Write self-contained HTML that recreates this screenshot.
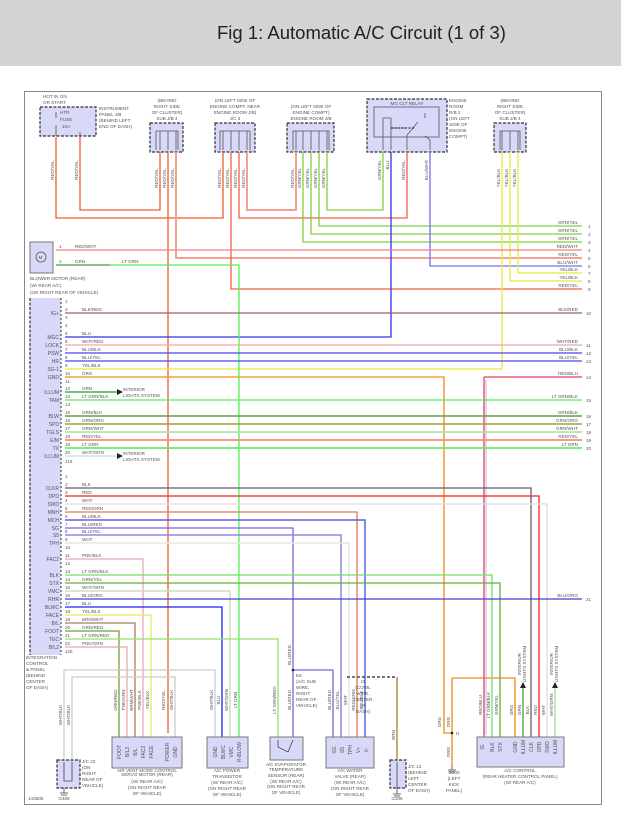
<!DOCTYPE html>
<html><head><meta charset="utf-8"><style>
html,body{margin:0;padding:0;background:#fff}
svg{display:block}
text{font-family:"Liberation Sans",sans-serif;fill:#555}
.s{font-size:4.6px}
.p{font-size:5px;fill:#444}
.w{fill:none;stroke-width:1.3}
.box{fill:#d8d8f8;stroke:#333;stroke-width:1.2;stroke-dasharray:3 1.5}
.sb{fill:#d8d8f8;stroke:#777;stroke-width:1}
</style></head><body>
<svg width="621" height="816" viewBox="0 0 621 816" xmlns="http://www.w3.org/2000/svg">
<rect x="0" y="0" width="621" height="66" fill="#d3d3d3"/>
<text x="217" y="39" style="font-size:18.5px;fill:#222">Fig 1: Automatic A/C Circuit (1 of 3)</text>
<rect x="24.5" y="91.5" width="577" height="713" fill="none" stroke="#888" stroke-width="1"/>

<!-- top boxes -->
<rect class="box" x="40" y="107" width="56" height="29"/>
<rect class="box" x="150" y="123" width="33" height="29"/>
<rect class="box" x="215" y="123" width="40" height="29"/>
<rect class="box" x="287" y="123" width="47" height="29"/>
<rect class="box" x="367" y="99" width="80" height="53"/>
<rect x="374" y="107" width="65" height="30" fill="none" stroke="#555" stroke-width="0.8"/>
<rect class="box" x="494" y="123" width="32" height="29"/>
<g stroke="#555" stroke-width="0.8" fill="none">
<path d="M156 150V131H178V150M160 131V150M168 131V150M176 131V150"/>
<path d="M220 150V131H250V150M223 131V150M231 131V150M239 131V150M247 131V150"/>
<path d="M293 150V131H329V150M296 131V150M303 131V150M311 131V150M319 131V150M327 131V150"/>
<path d="M500 150V131H520V150M502 131V150M510 131V150M518 131V150"/>
<path d="M56 136V125M56 118V112M80 136V132H80"/>
<path d="M383 150V118M391 150V118M383 118H391M391 128H405M407 150V135L418 122M430 150V140L425 136M425 118V113"/>
</g>
<g stroke="#333" stroke-width="1.2" stroke-dasharray="2 1.5"><path d="M391 128H415"/></g>

<!-- top labels -->
<g class="s">
<text x="43" y="98">HOT IN ON</text><text x="43" y="104">OR START</text>
<text x="60" y="114">HTR</text><text x="60" y="121">FUSE</text><text x="62" y="128">10A</text>
<text x="99" y="110">INSTRUMENT</text><text x="99" y="116">PANEL J/B</text><text x="99" y="122">(BEHIND LEFT</text><text x="99" y="128">END OF DASH)</text>
<g text-anchor="middle">
<text x="167" y="102">(BEHIND</text><text x="167" y="108">RIGHT SIDE</text><text x="167" y="114">OF CLUSTER)</text><text x="167" y="120">SUB J/B 4</text>
<text x="235" y="102">(ON LEFT SIDE OF</text><text x="235" y="108">ENGINE COMPT, NEAR</text><text x="235" y="114">ENGINE ROOM J/B)</text><text x="235" y="120">J/C 3</text>
<text x="311" y="108">(ON LEFT SIDE OF</text><text x="311" y="114">ENGINE COMPT)</text><text x="311" y="120">ENGINE ROOM J/B</text>
<text x="407" y="105">MG CLT RELAY</text>
<text x="510" y="102">(BEHIND</text><text x="510" y="108">RIGHT SIDE</text><text x="510" y="114">OF CLUSTER)</text><text x="510" y="120">SUB J/B 4</text>
</g>
<text x="449" y="102">ENGINE</text><text x="449" y="108">ROOM</text><text x="449" y="114">R/B 2</text><text x="449" y="120">(ON LEFT</text><text x="449" y="126">SIDE OF</text><text x="449" y="132">ENGINE</text><text x="449" y="138">COMPT)</text>
</g>
<!-- vertical wire labels top -->
<g class="s" text-anchor="middle">
<text transform="translate(54,170) rotate(-90)">RED/YEL</text>
<text transform="translate(78,170) rotate(-90)">RED/YEL</text>
<text transform="translate(158,178) rotate(-90)">RED/YEL</text>
<text transform="translate(166,178) rotate(-90)">RED/YEL</text>
<text transform="translate(174,178) rotate(-90)">RED/YEL</text>
<text transform="translate(221,178) rotate(-90)">RED/YEL</text>
<text transform="translate(229,178) rotate(-90)">RED/YEL</text>
<text transform="translate(237,178) rotate(-90)">RED/YEL</text>
<text transform="translate(245,178) rotate(-90)">RED/YEL</text>
<text transform="translate(294,178) rotate(-90)">RED/YEL</text>
<text transform="translate(301,178) rotate(-90)">GRN/YEL</text>
<text transform="translate(309,178) rotate(-90)">GRN/YEL</text>
<text transform="translate(317,178) rotate(-90)">GRN/YEL</text>
<text transform="translate(325,178) rotate(-90)">GRN/YEL</text>
<text transform="translate(381,170) rotate(-90)">GRN/YEL</text>
<text transform="translate(389,165) rotate(-90)">BLU</text>
<text transform="translate(405,170) rotate(-90)">RED/YEL</text>
<text transform="translate(428,170) rotate(-90)">BLU/WHT</text>
<text transform="translate(500,178) rotate(-90)">YEL/BLK</text>
<text transform="translate(508,178) rotate(-90)">YEL/BLK</text>
<text transform="translate(516,178) rotate(-90)">YEL/BLK</text>
</g>

<!-- top wires -->
<g class="w">
<path stroke="#f05a30" d="M56 137V218H223V152"/>
<path stroke="#f05a30" d="M80 137V210H160V152"/>
<path stroke="#f05a30" d="M168 152V733"/>
<path stroke="#f4a090" stroke-width="2" d="M176 152V258H582"/>
<path stroke="#f06040" d="M231 152V289H582"/>
<path stroke="#f06040" d="M239 152V218H407V152"/>
<path stroke="#f4a090" stroke-width="2" d="M247 152V210H296V152"/>
<path stroke="#80d040" d="M303 152V242H582"/>
<path stroke="#80d040" d="M311 152V234H582"/>
<path stroke="#80d040" d="M319 152V226H582"/>
<path stroke="#80d040" d="M327 152V210H383V152"/>
<path stroke="#3030f0" d="M391 152V337H65"/>
<path stroke="#7070f0" d="M430 152V266H582"/>
<path stroke="#e8e840" d="M502 152V369H65"/>
<path stroke="#e8e840" d="M510 152V281H582"/>
<path stroke="#e8e840" d="M518 152V273H582"/>
<path stroke="#f08080" d="M56 250H582"/>
<path stroke="#40a040" d="M56 265H110"/>
<path stroke="#50f050" d="M110 265H239V737"/>
</g>
<rect class="sb" x="30" y="242" width="23" height="31"/>
<circle cx="41" cy="257" r="5" fill="none" stroke="#555" stroke-width="0.8"/>
<text x="38.5" y="259" class="s">M</text>
<g class="s">
<text x="59" y="248">1</text><text x="59" y="263">2</text>
<text x="75" y="248">RED/WHT</text><text x="75" y="263">GRN</text><text x="122" y="263">LT GRN</text>
<text x="30" y="280">BLOWER MOTOR (REAR)</text><text x="30" y="287">(W/ REAR A/C)</text><text x="30" y="294">(ON RIGHT REAR OF VEHICLE)</text>
</g>
<g class="s" text-anchor="end">
<text x="578" y="224">GRN/YEL</text><text x="578" y="232">GRN/YEL</text><text x="578" y="240">GRN/YEL</text>
<text x="578" y="248">RED/WHT</text><text x="578" y="256">RED/YEL</text><text x="578" y="264">BLU/WHT</text>
<text x="578" y="271">YEL/BLK</text><text x="578" y="279">YEL/BLK</text><text x="578" y="287">RED/YEL</text>
<text x="578" y="311">BLK/RED</text><text x="578" y="343">WHT/RED</text><text x="578" y="351">BLU/BLK</text><text x="578" y="359">BLU/YEL</text>
<text x="578" y="375">RED/BLU</text><text x="578" y="398">LT GRN/BLK</text><text x="578" y="414">GRN/BLK</text>
<text x="578" y="422">GRN/ORG</text><text x="578" y="430">GRN/WHT</text><text x="578" y="438">RED/YEL</text><text x="578" y="446">LT GRN</text>
<text x="578" y="597">BLU/ORG</text>
</g>
<g class="s">
<text x="588" y="228">1</text><text x="588" y="236">2</text><text x="588" y="244">3</text><text x="588" y="252">4</text><text x="588" y="260">5</text><text x="588" y="268">6</text><text x="588" y="275">7</text><text x="588" y="283">8</text><text x="588" y="291">9</text>
<text x="586" y="315">10</text><text x="586" y="347">11</text><text x="586" y="355">12</text><text x="586" y="363">13</text><text x="586" y="379">14</text><text x="586" y="402">15</text><text x="586" y="418">16</text><text x="586" y="426">17</text><text x="586" y="434">18</text><text x="586" y="442">19</text><text x="586" y="450">20</text><text x="586" y="601">21</text>
</g>

<!-- integration module -->
<rect x="30" y="298" width="31" height="357" fill="#d8d8f8"/>
<path d="M30 298V655" stroke="#333" stroke-width="1.2" stroke-dasharray="3 1.5"/>
<path d="M61 298V655" stroke="#333" stroke-width="1" stroke-dasharray="2 2"/>
<g class="p" text-anchor="end">
<text x="59" y="315">IG+</text><text x="59" y="339">MGC</text><text x="59" y="347">LOCK</text><text x="59" y="355">PSW</text><text x="59" y="363">HR</text><text x="59" y="371">SG-1</text><text x="59" y="379">GND</text>
<text x="59" y="394">ILLUM</text><text x="59" y="402">TAM</text><text x="59" y="418">BLW</text><text x="59" y="426">SPD</text><text x="59" y="434">TGLS</text><text x="59" y="442">E/M</text><text x="59" y="450">TX</text><text x="59" y="458">ILLUM</text>
<text x="59" y="490">CLKR</text><text x="59" y="498">DPD</text><text x="59" y="506">SWD</text><text x="59" y="514">MNH</text><text x="59" y="522">MCH</text><text x="59" y="530">SG</text><text x="59" y="537">S5</text><text x="59" y="545">TPH</text>
<text x="59" y="561">FAC2</text><text x="59" y="577">BLK</text><text x="59" y="585">STX</text><text x="59" y="593">VMC</text><text x="59" y="601">RHR</text><text x="59" y="609">BLWC</text><text x="59" y="617">FACE</text><text x="59" y="625">B/L</text><text x="59" y="633">FOOT</text><text x="59" y="641">TEC</text><text x="59" y="649">B/L2</text>
</g>
<g class="s">
<text x="65" y="303">1</text><text x="65" y="311">2</text><text x="65" y="319">3</text><text x="65" y="327">4</text><text x="65" y="335">5</text><text x="65" y="343">6</text><text x="65" y="351">7</text><text x="65" y="359">8</text><text x="65" y="367">9</text><text x="65" y="375">10</text><text x="65" y="383">11</text><text x="65" y="390">12</text><text x="65" y="398">13</text><text x="65" y="406">14</text><text x="65" y="414">15</text><text x="65" y="422">16</text><text x="65" y="430">17</text><text x="65" y="438">18</text><text x="65" y="446">19</text><text x="65" y="454">20</text><text x="65" y="463">J19</text>
<text x="65" y="478">1</text><text x="65" y="486">2</text><text x="65" y="494">3</text><text x="65" y="502">4</text><text x="65" y="510">5</text><text x="65" y="518">6</text><text x="65" y="526">7</text><text x="65" y="533">8</text><text x="65" y="541">9</text><text x="65" y="549">10</text><text x="65" y="557">11</text><text x="65" y="565">12</text><text x="65" y="573">13</text><text x="65" y="581">14</text><text x="65" y="589">15</text><text x="65" y="597">16</text><text x="65" y="605">17</text><text x="65" y="613">18</text><text x="65" y="621">19</text><text x="65" y="629">20</text><text x="65" y="637">21</text><text x="65" y="645">22</text><text x="65" y="653">J20</text>
<text x="82" y="311">BLK/RED</text><text x="82" y="335">BLU</text><text x="82" y="343">WHT/RED</text><text x="82" y="351">BLU/BLK</text><text x="82" y="359">BLU/YEL</text><text x="82" y="367">YEL/BLK</text><text x="82" y="375">ORG</text>
<text x="82" y="390">GRN</text><text x="82" y="398">LT GRN/BLK</text><text x="82" y="414">GRN/BLK</text><text x="82" y="422">GRN/ORG</text><text x="82" y="430">GRN/WHT</text><text x="82" y="438">RED/YEL</text><text x="82" y="446">LT GRN</text><text x="82" y="454">WHT/GRN</text>
<text x="82" y="486">BLK</text><text x="82" y="494">RED</text><text x="82" y="502">WHT</text><text x="82" y="510">RED/GRN</text><text x="82" y="518">BLU/BLK</text><text x="82" y="526">BLU/RED</text><text x="82" y="533">BLU/YEL</text><text x="82" y="541">WHT</text>
<text x="82" y="557">PNK/BLK</text><text x="82" y="573">LT GRN/BLK</text><text x="82" y="581">GRN/YEL</text><text x="82" y="589">WHT/GRN</text><text x="82" y="597">BLU/ORG</text><text x="82" y="605">BLU</text><text x="82" y="613">YEL/BLK</text><text x="82" y="621">BRN/WHT</text><text x="82" y="629">GRN/RED</text><text x="82" y="637">LT GRN/RED</text><text x="82" y="645">PNK/GRN</text>
<text x="123" y="391">INTERIOR</text><text x="123" y="397">LIGHTS SYSTEM</text>
<text x="123" y="455">INTERIOR</text><text x="123" y="461">LIGHTS SYSTEM</text>
<text x="26" y="659">INTEGRATION</text><text x="26" y="665">CONTROL</text><text x="26" y="671">&amp; PANEL</text><text x="26" y="677">(BEHIND</text><text x="26" y="683">CENTER</text><text x="26" y="689">OF DASH)</text>
</g>

<!-- module wires -->
<g class="w">
<path stroke="#a06060" d="M65 313H582"/>
<path stroke="#f0a8a8" d="M65 345H582"/>
<path stroke="#4848e8" d="M65 353H582"/>
<path stroke="#4848f0" d="M65 361H582"/>
<path stroke="#f0a040" stroke-width="1.6" d="M65 377H444V733H452M452 678V765M452 678H515V737"/>
<path stroke="#e04060" d="M484 377H582M484 377V737"/>
<path stroke="#c0a0e8" stroke-width="0.8" d="M486 380V735"/>
<path stroke="#20a020" d="M65 392H118"/>
<path stroke="#50f050" d="M65 400H582"/>
<path stroke="#60a040" stroke-width="1.6" d="M65 416H582"/>
<path stroke="#a0a040" stroke-width="1.6" d="M65 424H582"/>
<path stroke="#b8e0a8" stroke-width="1.8" d="M65 432H582"/>
<path stroke="#f09070" stroke-width="1.8" d="M65 440H582"/>
<path stroke="#60f060" stroke-width="1.8" d="M65 448H582"/>
<path stroke="#c8e0c0" d="M65 456H118"/>
<path stroke="#606060" d="M65 488H531V737"/>
<path stroke="#f02020" d="M65 496H539V737"/>
<path stroke="#dddddd" d="M65 504H547V737"/>
<path stroke="#e07060" d="M65 512H357V737"/>
<path stroke="#6060e0" stroke-width="1.5" d="M65 520H365V737"/>
<path stroke="#8060e0" d="M65 528H293V737M293 670H333V737"/>
<path stroke="#8888e0" stroke-width="1.5" d="M65 535H341V737"/>
<path stroke="#e6e6e6" stroke-width="1.5" d="M65 543H349V737"/>
<path stroke="#e8a8b8" d="M65 559H143V737"/>
<path stroke="#70e060" d="M65 575H492V737"/>
<path stroke="#60b030" d="M65 583H500V737"/>
<path stroke="#c8e0c0" stroke-width="1.5" d="M65 591H230V737"/>
<path stroke="#4040d0" d="M65 599H582"/>
<path stroke="#2020f0" d="M65 607H222V737"/>
<path stroke="#e8e860" d="M65 615H151V737"/>
<path stroke="#a08060" d="M65 623H135V737"/>
<path stroke="#70a040" d="M65 631H119V737"/>
<path stroke="#90e070" d="M65 639H278V737"/>
<path stroke="#e8a8a8" d="M65 647H127V737"/>
<path stroke="#cccccc" d="M64 760V670H215V737"/>
<path stroke="#cccccc" d="M72 760V677H175V737"/>
<path stroke="#a08030" d="M397 677V760"/>
<path stroke="#40a040" d="M523 686V737"/>
<path stroke="#a8d898" d="M555 686V737"/>
</g>
<path d="M347 677H397" stroke="#222" stroke-width="1.2" stroke-dasharray="3 2"/>
<circle cx="293" cy="670" r="1.3" fill="#222"/>
<circle cx="452" cy="733" r="1.3" fill="#222"/>
<path d="M117 389L123 392L117 395Z M117 453L123 456L117 459Z M520 688L523 682L526 688Z M552 688L555 682L558 688Z" fill="#222"/>

<!-- bottom boxes -->
<rect class="sb" x="112" y="737" width="70" height="31"/>
<rect class="sb" x="207" y="737" width="41" height="31"/>
<rect class="sb" x="270" y="737" width="33" height="23"/>
<rect class="sb" x="326" y="737" width="48" height="31"/>
<rect class="sb" x="477" y="737" width="87" height="30"/>
<rect class="box" x="57" y="760" width="23" height="28"/>
<rect class="box" x="390" y="760" width="16" height="28"/>
<path d="M64 762V781H72V762M397 762V788M64 788V793M60 793H68M61 795H67M397 788V794M393 794H401M394 796H400M452 765V770M448 770H456M449 772H455M278 740V747L288 752L293 740" stroke="#444" stroke-width="0.8" fill="none"/>
<g class="p" text-anchor="middle">
<text transform="translate(121,752) rotate(-90)">FOOT</text>
<text transform="translate(129,752) rotate(-90)">B/L2</text>
<text transform="translate(137,752) rotate(-90)">B/L</text>
<text transform="translate(145,752) rotate(-90)">FAC2</text>
<text transform="translate(153,752) rotate(-90)">FACE</text>
<text transform="translate(169,752) rotate(-90)">POWER</text>
<text transform="translate(177,752) rotate(-90)">GND</text>
<text transform="translate(217,752) rotate(-90)">GND</text>
<text transform="translate(225,752) rotate(-90)">BLWC</text>
<text transform="translate(233,752) rotate(-90)">VMC</text>
<text transform="translate(241,752) rotate(-90)">R-BLOW</text>
<text transform="translate(336,750) rotate(-90)">SG</text>
<text transform="translate(344,750) rotate(-90)">S5</text>
<text transform="translate(352,750) rotate(-90)">TPH</text>
<text transform="translate(360,750) rotate(-90)">V+</text>
<text transform="translate(368,750) rotate(-90)">V-</text>
<text transform="translate(484,747) rotate(-90)">IG</text>
<text transform="translate(494,747) rotate(-90)">BLK</text>
<text transform="translate(502,747) rotate(-90)">STX</text>
<text transform="translate(517,747) rotate(-90)">GND</text>
<text transform="translate(525,747) rotate(-90)">ILLUM</text>
<text transform="translate(533,747) rotate(-90)">CLK</text>
<text transform="translate(541,747) rotate(-90)">OPD</text>
<text transform="translate(549,747) rotate(-90)">SWD</text>
<text transform="translate(557,747) rotate(-90)">ILLUM</text>
</g>
<g class="s" text-anchor="middle">
<text transform="translate(117,700) rotate(-90)">GRN/RED</text>
<text transform="translate(125,700) rotate(-90)">PNK/GRN</text>
<text transform="translate(133,700) rotate(-90)">BRN/WHT</text>
<text transform="translate(141,700) rotate(-90)">PNK/BLK</text>
<text transform="translate(149,700) rotate(-90)">YEL/BLK</text>
<text transform="translate(165,700) rotate(-90)">RED/YEL</text>
<text transform="translate(173,700) rotate(-90)">WHT/BLK</text>
<text transform="translate(213,700) rotate(-90)">WHT/BLK</text>
<text transform="translate(220,700) rotate(-90)">BLU</text>
<text transform="translate(228,700) rotate(-90)">WHT/GRN</text>
<text transform="translate(237,700) rotate(-90)">LT GRN</text>
<text transform="translate(276,700) rotate(-90)">LT GRN/RED</text>
<text transform="translate(291,700) rotate(-90)">BLU/RED</text>
<text transform="translate(291,655) rotate(-90)">BLU/RED</text>
<text transform="translate(331,700) rotate(-90)">BLU/RED</text>
<text transform="translate(339,700) rotate(-90)">BLU/YEL</text>
<text transform="translate(347,700) rotate(-90)">WHT</text>
<text transform="translate(355,700) rotate(-90)">RED/GRN</text>
<text transform="translate(363,700) rotate(-90)">BLU/BLK</text>
<text transform="translate(395,735) rotate(-90)">BRN</text>
<text transform="translate(62,715) rotate(-90)">WHT/BLK</text>
<text transform="translate(70,715) rotate(-90)">WHT/BLK</text>
<text transform="translate(441,722) rotate(-90)">ORG</text>
<text transform="translate(450,722) rotate(-90)">ORG</text>
<text transform="translate(450,752) rotate(-90)">ORG</text>
<text transform="translate(482,705) rotate(-90)">RED/BLU</text>
<text transform="translate(490,705) rotate(-90)">LT GRN/BLK</text>
<text transform="translate(498,705) rotate(-90)">GRN/YEL</text>
<text transform="translate(513,710) rotate(-90)">ORG</text>
<text transform="translate(521,710) rotate(-90)">GRN</text>
<text transform="translate(529,710) rotate(-90)">BLK</text>
<text transform="translate(537,710) rotate(-90)">RED</text>
<text transform="translate(545,710) rotate(-90)">WHT</text>
<text transform="translate(553,705) rotate(-90)">WHT/GRN</text>
<text transform="translate(521,664) rotate(-90)">INTERIOR</text>
<text transform="translate(526,664) rotate(-90)">LIGHTS SYSTEM</text>
<text transform="translate(553,664) rotate(-90)">INTERIOR</text>
<text transform="translate(558,664) rotate(-90)">LIGHTS SYSTEM</text>
<text x="147" y="772">AIR VENT MODE CONTROL</text><text x="147" y="776">SERVO MOTOR (REAR)</text><text x="147" y="783">(W/ REAR A/C)</text><text x="147" y="789">(ON RIGHT REAR</text><text x="147" y="795">OF VEHICLE)</text>
<text x="227" y="772">A/C POWER</text><text x="227" y="778">TRANSISTOR</text><text x="227" y="784">(W/ REAR A/C)</text><text x="227" y="790">(ON RIGHT REAR</text><text x="227" y="796">OF VEHICLE)</text>
<text x="286" y="766">A/C EVAPORATOR</text><text x="286" y="771">TEMPERATURE</text><text x="286" y="777">SENSOR (REAR)</text><text x="286" y="783">(W/ REAR A/C)</text><text x="286" y="788">(ON RIGHT REAR</text><text x="286" y="794">OF VEHICLE)</text>
<text x="350" y="772">A/C WATER</text><text x="350" y="778">VALVE (REAR)</text><text x="350" y="784">(W/ REAR A/C)</text><text x="350" y="790">(ON RIGHT REAR</text><text x="350" y="796">OF VEHICLE)</text>
<text x="520" y="772">A/C CONTROL</text><text x="520" y="778">(REAR HEATER CONTROL PANEL)</text><text x="520" y="784">(W/ REAR A/C)</text>
<text x="454" y="774">G200</text><text x="454" y="780">(LEFT</text><text x="454" y="786">KICK</text><text x="454" y="792">PANEL)</text>
<text x="64" y="800">G405</text><text x="397" y="800">G206</text>
<text x="363" y="683">I2</text><text x="363" y="689">(COWL</text><text x="363" y="695">WIRE,</text><text x="363" y="701">CENTER</text><text x="363" y="707">OF</text><text x="363" y="713">DASH)</text>
</g>
<g class="s">
<text x="296" y="677">E6</text><text x="296" y="683">(A/C SUB</text><text x="296" y="689">WIRE,</text><text x="296" y="695">RIGHT</text><text x="296" y="701">REAR OF</text><text x="296" y="707">VEHICLE)</text>
<text x="82" y="763">J/C 23</text><text x="82" y="769">(ON</text><text x="82" y="775">RIGHT</text><text x="82" y="781">REAR OF</text><text x="82" y="787">VEHICLE)</text>
<text x="408" y="768">J/C 12</text><text x="408" y="774">(BEHIND</text><text x="408" y="780">LEFT</text><text x="408" y="786">CENTER</text><text x="408" y="792">OF DASH)</text>
<text x="456" y="735">H</text>
<text x="28" y="800">143605</text>
</g>
</svg>
</body></html>
